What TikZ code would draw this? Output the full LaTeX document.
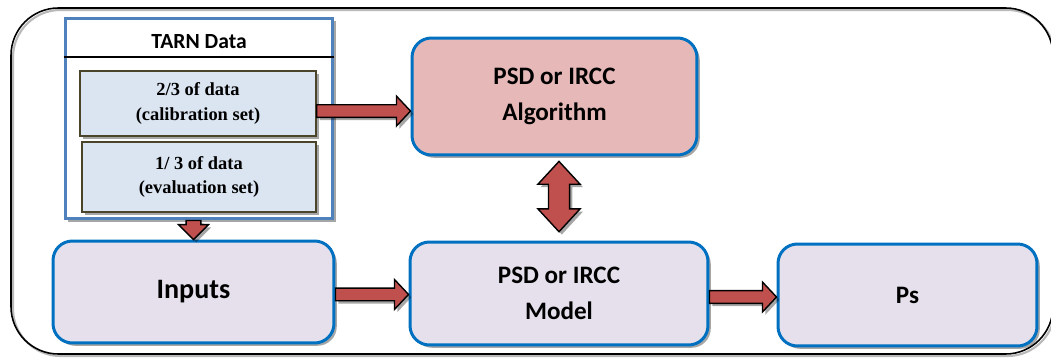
\documentclass[tikz,border=0pt]{standalone}
\usepackage{fontspec}
\setmainfont{Carlito}
\newfontfamily\timesfont{Liberation Serif}
\usetikzlibrary{calc,shadows}

\definecolor{boxblue}{HTML}{0070C0}
\definecolor{tarnblue}{HTML}{4F81BD}
\definecolor{lavender}{HTML}{E5E0EC}
\definecolor{rosefill}{HTML}{E6B9B8}
\definecolor{datafill}{HTML}{DBE5F1}
\definecolor{dataline}{HTML}{4A452A}
\definecolor{arrowred}{HTML}{C0504D}

\tikzset{
  boxshadow/.style={drop shadow={shadow xshift=1.6pt,shadow yshift=-1.6pt,fill=black,opacity=0.35}},
  roundbox/.style={draw=boxblue,line width=1.7pt,rounded corners=11pt,fill=lavender,boxshadow,
    align=center,font=\bfseries\fontsize{14.3}{20.5}\selectfont},
  tarnbox/.style={draw=tarnblue,line width=1.7pt,fill=white,boxshadow},
  databox/.style={draw=dataline,line width=0.9pt,fill=datafill,boxshadow,align=center,
    font=\timesfont\bfseries\fontsize{10.5}{13.7}\selectfont},
  blockarrow/.style={draw=black,line width=0.8pt,fill=arrowred,line join=miter,boxshadow}
}

% block arrows: horizontal, downward, two-headed
\newcommand{\hblock}[2]{\draw[blockarrow] let \p1=#1, \p2=#2 in
  (\x1,\y1+3.6pt) -- (\x2-8pt,\y1+3.6pt) -- (\x2-8pt,\y1+8.5pt) -- (\x2,\y1)
  -- (\x2-8pt,\y1-8.5pt) -- (\x2-8pt,\y1-3.6pt) -- (\x1,\y1-3.6pt) -- cycle;}
\newcommand{\vblock}[2]{\draw[blockarrow] let \p1=#1, \p2=#2 in
  (\x1-4.2pt,\y1) -- (\x1-4.2pt,\y2+8.5pt) -- (\x1-8.5pt,\y2+8.5pt) -- (\x1,\y2)
  -- (\x1+8.5pt,\y2+8.5pt) -- (\x1+4.2pt,\y2+8.5pt) -- (\x1+4.2pt,\y1) -- cycle;}
\newcommand{\dblock}[2]{\draw[blockarrow] let \p1=#1, \p2=#2 in
  (\x1,\y1) -- (\x1+12pt,\y1-13pt) -- (\x1+6pt,\y1-13pt) -- (\x1+6pt,\y2+13pt)
  -- (\x1+12pt,\y2+13pt) -- (\x1,\y2) -- (\x1-12pt,\y2+13pt) -- (\x1-6pt,\y2+13pt)
  -- (\x1-6pt,\y1-13pt) -- (\x1-12pt,\y1-13pt) -- cycle;}

\begin{document}
\begin{tikzpicture}[x=0.02cm,y=-0.02cm]
  \useasboundingbox (0,0) rectangle (1051,358);

  % outer frame
  \draw[gray!55,line width=1.2pt,rounded corners=27pt] (13,10) rectangle (1055,356);
  \draw[line width=0.9pt,rounded corners=27pt] (11,8) rectangle (1053,354);

  % TARN data
  \node[tarnbox,minimum width=5.36cm,minimum height=4.02cm] (tarn) at (199,118.5) {};
  \node[font=\bfseries\fontsize{12.3}{14}\selectfont] (title) at (199,42) {TARN Data};
  \coordinate (titleline) at (0,57);
  \draw[line width=0.7pt] (tarn.west |- titleline) -- (tarn.east |- titleline);
  \node[databox,minimum width=4.72cm,minimum height=1.3cm] (cal) at (198,103.5)
    {2/3 of data\\(calibration set)};
  \node[databox,minimum width=4.68cm,minimum height=1.4cm] (eval) at (199,177)
    {1/ 3 of data\\(evaluation set)};

  % blocks
  \node[roundbox,minimum width=5.62cm,minimum height=2.04cm,
    font=\bfseries\fontsize{16}{18}\selectfont] (inp) at (193.5,292) {Inputs};
  \node[roundbox,fill=rosefill,minimum width=5.7cm,minimum height=2.34cm] (alg)
    at (554.5,96.5) {PSD or IRCC\\Algorithm};
  \node[roundbox,minimum width=5.96cm,minimum height=2.06cm] (mod) at (559,293.5)
    {PSD or IRCC\\Model};
  \node[roundbox,minimum width=5.18cm,minimum height=2.04cm] (ps) at (907.5,295) {Ps};

  % arrows
  \hblock{([yshift=-4.3pt]cal.east)}{(alg.west)}
  \vblock{(inp.north |- tarn.south)}{(inp.north)}
  \hblock{([yshift=-1.4pt]inp.east)}{(mod.west)}
  \hblock{([yshift=-2pt]mod.east)}{(ps.west)}
  \dblock{([yshift=-2.8pt]mod.north |- alg.south)}{([yshift=5pt]mod.north)}
\end{tikzpicture}
\end{document}
